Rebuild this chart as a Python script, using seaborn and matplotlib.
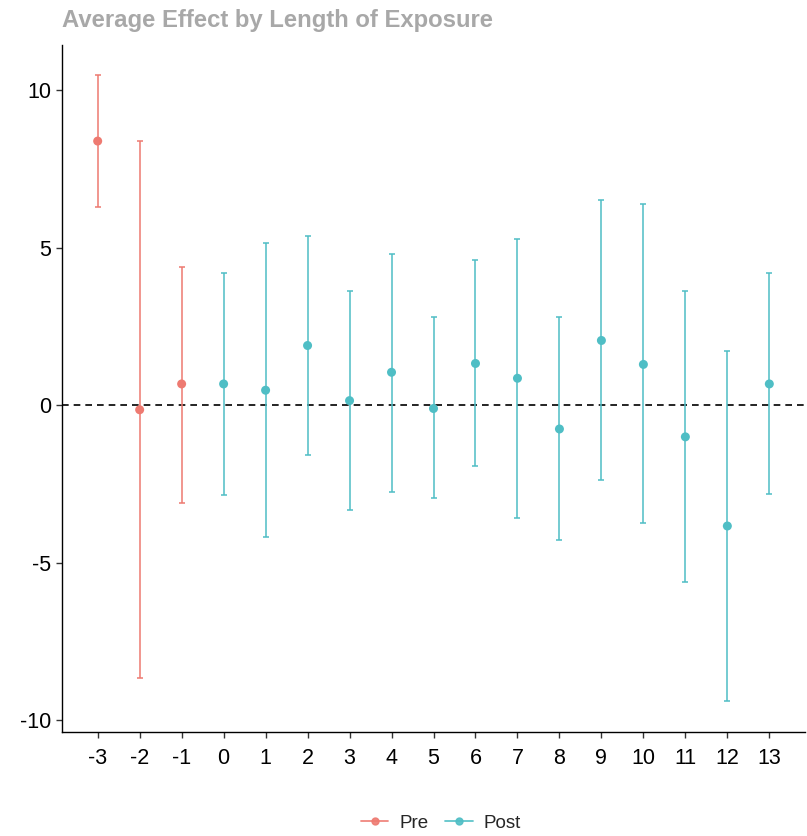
import matplotlib
matplotlib.use("Agg")
import matplotlib.pyplot as plt
from matplotlib.lines import Line2D
import seaborn as sns
import pandas as pd

periods = [-3, -2, -1, 0, 1, 2, 3, 4, 5, 6, 7, 8, 9, 10, 11, 12, 13]
estimates = [8.38, -0.15, 0.67, 0.67, 0.47, 1.89, 0.14, 1.04, -0.11, 1.32, 0.85, -0.76, 2.05, 1.29, -1.01, -3.84, 0.67]
upper = [10.47, 8.38, 4.37, 4.18, 5.13, 5.38, 3.62, 4.81, 2.80, 4.60, 5.27, 2.79, 6.52, 6.37, 3.61, 1.71, 4.19]
lower = [6.29, -8.66, -3.11, -2.87, -4.19, -1.58, -3.33, -2.77, -2.95, -1.92, -3.58, -4.30, -2.39, -3.75, -5.61, -9.40, -2.84]
groups = ["Pre", "Pre", "Pre"] + ["Post"] * 14
title = "Average Effect by Length of Exposure"
y_ticks = [-10, -5, 0, 5, 10]

df = pd.DataFrame({"period": periods, "estimate": estimates,
                   "upper": upper, "lower": lower, "group": groups})

palette = {"Pre": "#EE7A71", "Post": "#4FBEC5"}

sns.set_theme(style="white")
plt.rcParams["font.family"] = ["Liberation Sans", "DejaVu Sans"]

fig = plt.figure(figsize=(8.07, 8.36), dpi=100)
ax = fig.add_axes([62 / 807, 1 - 732 / 836, (805 - 62) / 807, (732 - 45) / 836])

for g, sub in df.groupby("group"):
    ax.errorbar(sub["period"], sub["estimate"],
                yerr=[sub["estimate"] - sub["lower"], sub["upper"] - sub["estimate"]],
                fmt="none", ecolor=palette[g], elinewidth=1.3, capsize=2.5,
                capthick=1.3, alpha=0.85, zorder=2)

sns.scatterplot(data=df, x="period", y="estimate", hue="group", palette=palette,
                s=42, edgecolor="none", ax=ax, legend=False, zorder=3)

ax.axhline(0, color="black", linestyle=(0, (4, 3)), linewidth=1.2, zorder=1)

ax.set_xlim(-3.85, 13.85)
ax.set_ylim(-10.38, 11.43)
ax.set_xticks(periods)
ax.set_xticklabels([str(p) for p in periods])
ax.set_yticks(y_ticks)
ax.set_yticklabels([str(t) for t in y_ticks])
ax.set_xlabel("")
ax.set_ylabel("")

for side in ["top", "right"]:
    ax.spines[side].set_visible(False)
for side in ["left", "bottom"]:
    ax.spines[side].set_color("black")
    ax.spines[side].set_linewidth(1.0)

ax.tick_params(axis="both", which="both", direction="out", length=4, width=1,
               color="#333333", labelsize=15.5, labelcolor="black",
               bottom=True, left=True)
ax.tick_params(axis="x", pad=7.5)
ax.tick_params(axis="y", pad=4)

fig.text(62 / 807, 1 - 20 / 836, title, color="#A8A8A8", fontsize=17.2,
         fontweight="bold", ha="left", va="center")

handles = [Line2D([0], [0], color=palette[g], marker="o", markersize=5,
                  linewidth=1.3, alpha=0.9) for g in ["Pre", "Post"]]
fig.legend(handles, ["Pre", "Post"], loc="center", bbox_to_anchor=(441 / 807, 1 - 823 / 836),
           ncol=2, frameon=False, fontsize=13.5, handlelength=1.45, columnspacing=0.9,
           handletextpad=0.6)

fig.savefig("out.png", dpi=100)
